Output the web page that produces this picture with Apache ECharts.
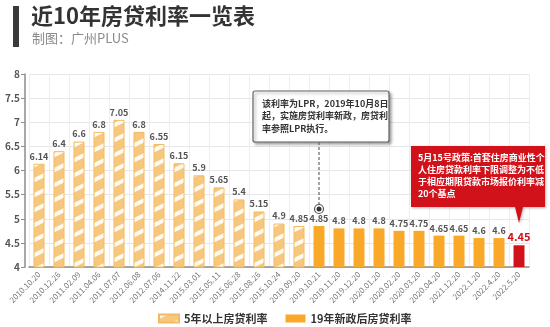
<!DOCTYPE html>
<html><head><meta charset="utf-8">
<script src="https://cdn.jsdelivr.net/npm/echarts@6/dist/echarts.min.js"></script>
<style>html,body{margin:0;padding:0;background:#fff}#c{width:550px;height:327px}</style>
</head><body><div id="c"></div>
<script>
const categories = ['2010.10.20','2010.12.26','2011.02.09','2011.04.06','2011.07.07','2012.06.08','2012.07.06','2014.11.22','2015.03.01','2015.05.11','2015.06.28','2015.08.26','2015.10.24','2019.09.20','2019.10.21','2019.11.20','2019.12.20','2020.01.20','2020.02.20','2020.03.20','2020.04.20','2021.12.20','2022.1.20','2022.4.20','2022.5.20'];
const oldRates = [6.14,6.4,6.6,6.8,7.05,6.8,6.55,6.15,5.9,5.65,5.4,5.15,4.9,4.85,'-','-','-','-','-','-','-','-','-','-','-'];
const newRates = ['-','-','-','-','-','-','-','-','-','-','-','-','-','-',4.85,4.8,4.8,4.8,4.75,4.75,4.65,4.65,4.6,4.6,4.45];
const yTicks = {min:4, max:8, interval:0.5};
const seriesNames = ['5年以上房贷利率','19年新政后房贷利率'];
const note1 = ['该利率为LPR，2019年10月8日','起，实施房贷利率新政，房贷利','率参照LPR执行。'];
const note2 = ['5月15号政策:首套住房商业性个','人住房贷款利率下限调整为不低','于相应期限贷款市场报价利率减','20个基点'];

const FONT = '"Noto Sans CJK SC","Noto Sans",sans-serif';
// hatch pattern
const tile = document.createElement('canvas');
tile.width = 30; tile.height = 15;
const tc = tile.getContext('2d');
tc.fillStyle = '#F7C77D'; tc.fillRect(0,0,30,15);
tc.fillStyle = 'rgba(255,255,255,0.9)';
for (let k=-1;k<=1;k++){
  const o = k*15;
  tc.beginPath();
  tc.moveTo(0,15+o); tc.lineTo(30,0+o); tc.lineTo(30,4.5+o); tc.lineTo(0,19.5+o); tc.closePath(); tc.fill();
}
const hatch = {image: tile, repeat: 'repeat'};

const newData = newRates.map((v,i)=> i===newRates.length-1 ? {value:v, itemStyle:{color:'#D1121B'}, label:{color:'#D1121B', fontSize:11}} : v);

const chart = echarts.init(document.getElementById('c'));
chart.setOption({
  animation:false,
  textStyle:{fontFamily:FONT},
  grid:{left:29, right:21, top:74, bottom:60},
  legend:{left:153, top:308, itemWidth:20, itemHeight:8, itemGap:18, icon:'rect',
    textStyle:{fontFamily:FONT, fontSize:11, fontWeight:'bold', color:'#333'},
    data:seriesNames},
  xAxis:{type:'category', data:categories,
    axisLine:{lineStyle:{color:'#8c8c8c', width:1.5}},
    axisTick:{show:false},
    splitLine:{show:true, lineStyle:{color:'#eeeeee'}},
    axisLabel:{rotate:45, fontSize:8, color:'#777', margin:6, interval:0, fontFamily:FONT}},
  yAxis:{type:'value', min:yTicks.min, max:yTicks.max, interval:yTicks.interval, offset:4,
    axisLine:{show:true, lineStyle:{color:'#8c8c8c', width:1.5}},
    axisTick:{show:true, length:4, lineStyle:{color:'#8c8c8c'}},
    splitLine:{lineStyle:{color:'#e6e6e6'}},
    axisLabel:{fontSize:10, fontWeight:'bold', color:'#555', margin:5, fontFamily:FONT}},
  series:[
    {name:seriesNames[0], type:'bar', data:oldRates, barWidth:11, barGap:'-100%',
      itemStyle:{color:hatch, borderColor:'#F2BB62', borderWidth:1},
      label:{show:true, position:'top', distance:3, fontSize:9, fontWeight:'bold', color:'#555', fontFamily:FONT}},
    {name:seriesNames[1], type:'bar', data:newData, barWidth:11,
      itemStyle:{color:'#FAA82A'},
      label:{show:true, position:'top', distance:3, fontSize:9, fontWeight:'bold', color:'#555', fontFamily:FONT}}
  ]
});

const p1 = chart.convertToPixel({xAxisIndex:0, yAxisIndex:0}, [14, newRates[14]]);
const p2 = chart.convertToPixel({xAxisIndex:0, yAxisIndex:0}, [24, newRates[24]]);
const cy = p1[1] - 17;
const px = p2[0];
chart.setOption({graphic:[
  {type:'rect', shape:{x:13,y:6,width:6,height:41}, style:{fill:'#3a3a3a'}},
  {type:'text', x:31, y:5, style:{text:'近10年房贷利率一览表', font:'bold 22px '+FONT, fill:'#333'}},
  {type:'text', x:32, y:32, style:{text:'制图：广州PLUS', font:'13px '+FONT, fill:'#8a8a8a'}},
  {type:'rect', shape:{x:253,y:91,width:136,height:51,r:2}, style:{fill:'#fff', stroke:'#666', lineWidth:1.2, shadowBlur:3, shadowOffsetX:2, shadowOffsetY:2, shadowColor:'rgba(0,0,0,0.35)'}},
  {type:'text', x:262, y:97, style:{text:note1.join('\n'), font:'bold 9px '+FONT, fill:'#333', lineHeight:12.5}},
  {type:'line', shape:{x1:p1[0],y1:142,x2:p1[0],y2:cy-4.5}, style:{stroke:'#666', lineWidth:1.2, lineDash:[3,2]}},
  {type:'circle', shape:{cx:p1[0],cy:cy,r:4.5}, style:{fill:'#fff', stroke:'#555', lineWidth:1.2}},
  {type:'circle', shape:{cx:p1[0],cy:cy,r:2.5}, style:{fill:'#333'}},
  {type:'polygon', shape:{points:[[411,146],[545,146],[545,207],[px+4,207],[px,223],[px-4,207],[411,207]]}, style:{fill:'#D1121B', shadowBlur:3, shadowOffsetX:1, shadowOffsetY:1, shadowColor:'rgba(0,0,0,0.3)'}},
  {type:'text', x:418, y:152, style:{text:note2.join('\n'), font:'bold 9px '+FONT, fill:'#fff', lineHeight:11.8}}
]});
</script></body></html>
